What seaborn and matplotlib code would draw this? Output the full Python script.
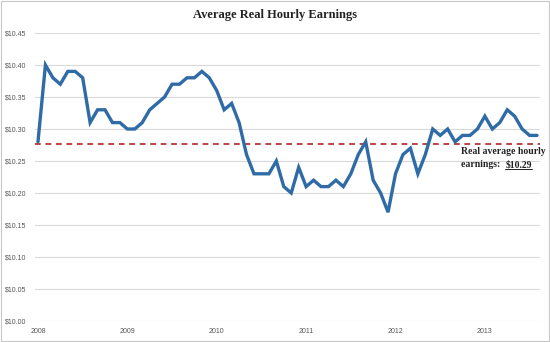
import matplotlib
matplotlib.use("Agg")
import matplotlib.pyplot as plt
from matplotlib.ticker import FuncFormatter
from matplotlib.patches import Rectangle
import seaborn as sns
import pandas as pd

# ---- data ----
earn_2008 = [10.28, 10.40, 10.38, 10.37, 10.39, 10.39, 10.38, 10.31, 10.33, 10.33, 10.31, 10.31]
earn_2009 = [10.30, 10.30, 10.31, 10.33, 10.34, 10.35, 10.37, 10.37, 10.38, 10.38, 10.39, 10.38]
earn_2010 = [10.36, 10.33, 10.34, 10.31, 10.26, 10.23, 10.23, 10.23, 10.25, 10.21, 10.20, 10.24]
earn_2011 = [10.21, 10.22, 10.21, 10.21, 10.22, 10.21, 10.23, 10.26, 10.28, 10.22, 10.20, 10.17]
earn_2012 = [10.23, 10.26, 10.27, 10.23, 10.26, 10.30, 10.29, 10.30, 10.28, 10.29, 10.29, 10.30]
earn_2013 = [10.32, 10.30, 10.31, 10.33, 10.32, 10.30, 10.29, 10.29]
year_labels = ["2008", "2009", "2010", "2011", "2012", "2013"]
y_ticks = [10.00, 10.05, 10.10, 10.15, 10.20, 10.25, 10.30, 10.35, 10.40, 10.45]
avg_level = 10.2765
avg_text = "$10.29"
title = "Average Real Hourly Earnings"

earnings = earn_2008 + earn_2009 + earn_2010 + earn_2011 + earn_2012 + earn_2013
df = pd.DataFrame({"month": list(range(len(earnings))), "earnings": earnings})

sns.set_theme(style="white")
plt.rcParams["font.family"] = ["Liberation Sans", "DejaVu Sans"]

fig = plt.figure(figsize=(5.5, 3.42), dpi=100)
ax = fig.add_axes([35 / 550, 1 - 321 / 342, 505 / 550, 288 / 342])

# grid
for v in y_ticks:
    ax.axhline(v, color="#d9d9d9", lw=0.8, zorder=0)

sns.lineplot(data=df, x="month", y="earnings", ax=ax, color="#2f6ba6", lw=2.4,
             zorder=3, solid_joinstyle="miter")
ax.axhline(avg_level, color="#b83434", lw=1.3, ls=(0, (3.2, 2.6)), zorder=2)

ax.set_xlim(-0.4, 67.4)
ax.set_ylim(10.0, 10.45)
ax.set_yticks(y_ticks)
ax.yaxis.set_major_formatter(FuncFormatter(lambda v, p: r"\$%.2f" % v))
ax.set_xticks([12 * i for i in range(len(year_labels))])
ax.set_xticklabels(year_labels)
ax.tick_params(axis="both", labelsize=5, colors="#555555", length=0)
ax.tick_params(axis="y", pad=6)
ax.tick_params(axis="x", pad=5)
ax.set_xlabel("")
ax.set_ylabel("")
for s in ax.spines.values():
    s.set_visible(False)

fig.text(0.5, 1 - 15 / 342, title, ha="center", va="center",
         family=["Liberation Serif", "DejaVu Serif"], fontweight="bold", fontsize=9, color="#222222")

serif = ["Liberation Serif", "DejaVu Serif"]
fig.text(461 / 550, 1 - 152 / 342, "Real average hourly", ha="left", va="center",
         family=serif, fontweight="bold", fontsize=7, color="#222222")
t1 = fig.text(461 / 550, 1 - 165 / 342, "earnings:  ", ha="left", va="center",
              family=serif, fontweight="bold", fontsize=7, color="#222222")
fig.canvas.draw()
r = fig.canvas.get_renderer()
bb = t1.get_window_extent(r)
t2 = fig.text(bb.x1 / 550, 1 - 165 / 342, avg_text.replace("$", r"\$"), ha="left", va="center",
              family=serif, fontweight="bold", fontsize=7, color="#222222")
fig.canvas.draw()
bb2 = t2.get_window_extent(r)
fig.add_artist(plt.Line2D([bb2.x0 / 550, bb2.x1 / 550], [(bb2.y0 + 0.5) / 342] * 2,
                          color="#222222", lw=0.7, transform=fig.transFigure))

fig.add_artist(Rectangle((0.001, 0.002), 0.997, 0.995, transform=fig.transFigure,
                         fill=False, edgecolor="#c8c8c8", lw=0.8))

fig.savefig("out.png", dpi=100)
